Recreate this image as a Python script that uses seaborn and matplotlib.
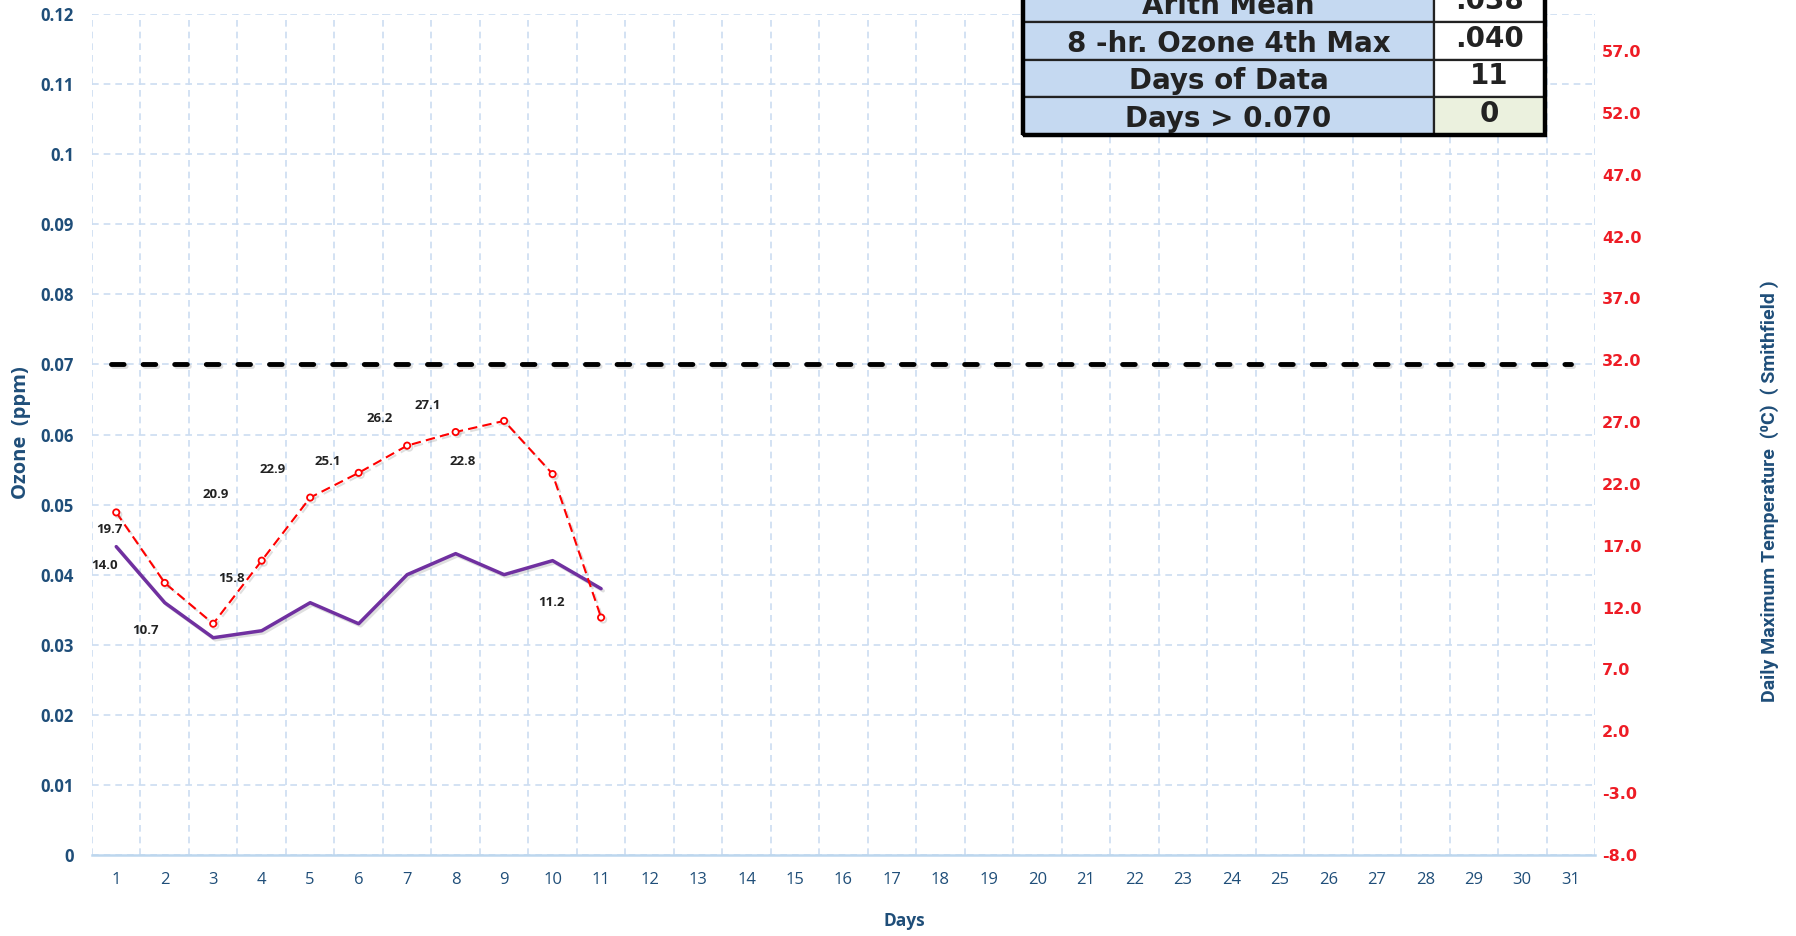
import matplotlib
matplotlib.use("Agg")
import matplotlib.pyplot as plt
import matplotlib.patheffects as pe
from matplotlib.patches import Rectangle
import seaborn as sns

# daily data (first 11 days of the month)
days = [1, 2, 3, 4, 5, 6, 7, 8, 9, 10, 11]
ozone_ppm = [0.044, 0.036, 0.031, 0.032, 0.036, 0.033, 0.040, 0.043, 0.040, 0.042, 0.038]
max_temp_c = [19.7, 14.0, 10.7, 15.8, 20.9, 22.9, 25.1, 26.2, 27.1, 22.8, 11.2]

month_days = list(range(1, 32))
ozone_ticks = [0, 0.01, 0.02, 0.03, 0.04, 0.05, 0.06, 0.07, 0.08, 0.09, 0.10, 0.11, 0.12]
ozone_tick_labels = ["0", "0.01", "0.02", "0.03", "0.04", "0.05", "0.06",
                     "0.07", "0.08", "0.09", "0.1", "0.11", "0.12"]
temp_ticks = [-8.0, -3.0, 2.0, 7.0, 12.0, 17.0, 22.0, 27.0, 32.0, 37.0, 42.0, 47.0, 52.0, 57.0]
ozone_standard = 0.070

stat_labels = ["Arith Mean", "8 -hr. Ozone 4th Max", "Days of Data", "Days > 0.070"]
stat_values = [".038", ".040", "11", "0"]

# where Excel left the temperature labels, relative to each point (pixels)
label_offsets = [(-7, -17), (-60, 17), (-68, -7), (-30, -18), (-94, 3), (-86, 3),
                 (-79, -16), (-76, 14), (-76, 15), (-90, 13), (-50, 15)]

NAVY = "#1F4E79"
GRID = "#CCDDF1"

sns.set_theme(style="white")
plt.rcParams["font.family"] = ["Open Sans", "DejaVu Sans"]

fig = plt.figure(figsize=(17.96, 9.36), dpi=100)
ax = fig.add_axes([92 / 1796, 81 / 936, 1503 / 1796, 841 / 936])
ax2 = ax.twinx()

# grid
ax.set_xlim(0.5, 31.5)
ax.set_ylim(0, 0.12)
ax.set_xticks(month_days)
ax.set_xticks([d + 0.5 for d in [0] + month_days], minor=True)
ax.set_yticks(ozone_ticks)
ax.set_yticklabels(ozone_tick_labels)
ax.grid(False)
ax.grid(True, which="minor", axis="x", color=GRID, lw=1.2, ls=(0, (4, 3)))
ax.grid(True, which="major", axis="y", color=GRID, lw=1.2, ls=(0, (4, 3)))
ax.tick_params(axis="x", which="both", length=0, pad=12, labelsize=12, labelcolor=NAVY)
ax.tick_params(axis="y", length=0, pad=13, labelsize=12, labelcolor=NAVY)
for lab in ax.get_yticklabels():
    lab.set_fontweight("bold")
for side in ["left", "right", "top"]:
    ax.spines[side].set_visible(False)
ax.spines["bottom"].set_color("#BDD7EE")
ax.spines["bottom"].set_linewidth(1.8)

shadow = [pe.SimpleLineShadow(offset=(1.5, -1.5), alpha=0.25, shadow_color="gray"), pe.Normal()]

# ozone standard
ax.hlines(ozone_standard, month_days[0] - 0.1, month_days[-1], color="black", lw=3.5,
          linestyles=(0, (2.6, 3.9)), capstyle="round", path_effects=shadow, zorder=3)

# ozone line
sns.lineplot(x=days, y=ozone_ppm, ax=ax, color="#7030A0", lw=2.5, zorder=4)
ax.lines[-1].set_path_effects(shadow)
ax.set_xlabel("")
ax.set_ylabel("")

# temperature line
ax2.set_ylim(-8, 60)
sns.lineplot(x=days, y=max_temp_c, ax=ax2, color="#FF0000", lw=1.5,
             linestyle=(0, (4.5, 2.5)), marker="o", markersize=4.5,
             markerfacecolor="white", markeredgecolor="#FF0000", markeredgewidth=1.3)
ax2.lines[-1].set_path_effects(shadow)
ax2.set_yticks(temp_ticks)
ax2.set_yticklabels([f"{t:.1f}" for t in temp_ticks])
ax2.tick_params(axis="y", length=0, pad=5, labelsize=11.5, labelcolor="#EE1C25")
for lab in ax2.get_yticklabels():
    lab.set_fontweight("bold")
    lab.set_family("DejaVu Sans")
for side in ["left", "right", "top", "bottom"]:
    ax2.spines[side].set_visible(False)
ax2.grid(False)
ax2.set_ylabel("")

for d, t, off in zip(days, max_temp_c, label_offsets):
    ax2.annotate(f"{t:.1f}", (d, t), xytext=off, textcoords="offset pixels",
                 ha="center", va="center", fontsize=9.5, fontweight="bold", color="#222222")

# axis titles
fig.text(904 / 1796, 1 - 921 / 936, "Days", ha="center", va="center",
         fontsize=12.5, fontweight="bold", color=NAVY)
fig.text(21 / 1796, 1 - 433 / 936, "Ozone  (ppm)", rotation=90, ha="center", va="center",
         fontsize=14.5, fontweight="bold", color=NAVY)
fig.text(1770 / 1796, 1 - 491 / 936, "Daily Maximum Temperature  (\u2070C)  ( Smithfield )",
         rotation=90, ha="center", va="center", fontsize=14, fontweight="bold",
         color=NAVY, family=["Roboto", "DejaVu Sans"])

# summary table, cut off at the top like the original
tab = fig.add_axes([1023 / 1796, 801 / 936, 522 / 1796, 151 / 936])
tab.set_xlim(0, 1)
tab.set_ylim(0, 4)
tab.axis("off")
split = 0.787
for i, (name, val) in enumerate(zip(stat_labels, stat_values)):
    y0 = 3 - i
    tab.add_patch(Rectangle((0, y0), split, 1, facecolor="#C5D9F1", edgecolor="#222222",
                            lw=1.6, clip_on=False))
    fill = "#EBF1DE" if i == len(stat_labels) - 1 else "white"
    tab.add_patch(Rectangle((split, y0), 1 - split, 1, facecolor=fill, edgecolor="#222222",
                            lw=1.6, clip_on=False))
    tab.text(split / 2, y0 + 0.42, name, ha="center", va="center", fontsize=20,
             fontweight="bold", color="#222222", family="DejaVu Sans")
    tab.text((1 + split) / 2, y0 + 0.55, val, ha="center", va="center", fontsize=20,
             fontweight="bold", color="#222222", family="DejaVu Sans")
tab.add_patch(Rectangle((0, 0), 1, 4, fill=False, edgecolor="black", lw=3.2, clip_on=False))

fig.savefig("out.png", dpi=100)
